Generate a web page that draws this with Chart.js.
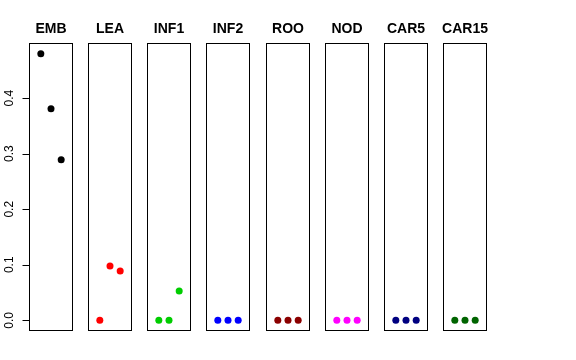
<!DOCTYPE html>
<html>
<head>
<meta charset="utf-8">
<script src="https://cdn.jsdelivr.net/npm/chart.js@4/dist/chart.umd.min.js"></script>
<style>
  body { margin: 0; background: #fff; }
  #wrap { position: relative; width: 576px; height: 360px; background: #fff; }
  #wrap canvas { position: absolute; top: 0; }
</style>
</head>
<body>
<div id="wrap"></div>
<script>
// panel names and values (x = 1, 2, 3 in each panel)
var tissues = ['EMB', 'LEA', 'INF1', 'INF2', 'ROO', 'NOD', 'CAR5', 'CAR15'];
var xPos = [1, 2, 3];
var embValues = [0.480, 0.381, 0.289];
var leaValues = [0.0, 0.098, 0.089];
var inf1Values = [0.0, 0.0, 0.053];
var inf2Values = [0, 0, 0];
var rooValues = [0, 0, 0];
var nodValues = [0, 0, 0];
var car5Values = [0, 0, 0];
var car15Values = [0, 0, 0];
var yTicks = [0.0, 0.1, 0.2, 0.3, 0.4];
var colors = ['#000000', '#ff0000', '#00cd00', '#0000ff', '#8b0000', '#ff00ff', '#000080', '#006400'];

var allValues = [embValues, leaValues, inf1Values, inf2Values, rooValues, nodValues, car5Values, car15Values];

var panelLeft = 29, panelPitch = 59.14, panelW = 44;
var panelTop = 43, panelBottom = 331, canvasH = 360;
var FONT = '"Liberation Sans", Arial, Helvetica, sans-serif';

var boxPlugin = {
  id: 'box',
  afterDraw: function(chart) {
    var ctx = chart.ctx, a = chart.chartArea;
    ctx.save();
    ctx.strokeStyle = '#000';
    ctx.lineWidth = 1;
    ctx.strokeRect(a.left + 0.5, a.top + 0.5, a.right - a.left - 1, a.bottom - a.top - 1);
    // title
    ctx.fillStyle = '#000';
    ctx.font = 'bold 14px ' + FONT;
    ctx.textAlign = 'center';
    ctx.textBaseline = 'middle';
    ctx.fillText(chart.options.plugins.box.title, (a.left + a.right) / 2, 29);
    // y axis on first panel only
    if (chart.options.plugins.box.axis) {
      var y = chart.scales.y;
      var x0 = a.left + 0.5;
      ctx.beginPath();
      ctx.moveTo(x0, Math.round(y.getPixelForValue(yTicks[0])) + 0.5);
      ctx.lineTo(x0, Math.round(y.getPixelForValue(yTicks[yTicks.length - 1])) + 0.5);
      yTicks.forEach(function(t) {
        var py = Math.round(y.getPixelForValue(t)) + 0.5;
        ctx.moveTo(x0, py);
        ctx.lineTo(x0 - 7, py);
      });
      ctx.stroke();
      ctx.font = '12px ' + FONT;
      yTicks.forEach(function(t) {
        var py = y.getPixelForValue(t);
        ctx.save();
        ctx.translate(10, py);
        ctx.rotate(-Math.PI / 2);
        ctx.fillText(t.toFixed(1), 0, 0);
        ctx.restore();
      });
    }
    ctx.restore();
  }
};

var wrap = document.getElementById('wrap');

tissues.forEach(function(name, i) {
  var left = Math.round(panelLeft + i * panelPitch);
  var pad = i == 0 ? left : 5;
  var canvasLeft = left - pad;
  var canvas = document.createElement('canvas');
  canvas.style.left = canvasLeft + 'px';
  canvas.style.width = (pad + panelW + 5) + 'px';
  canvas.style.height = canvasH + 'px';
  canvas.width = pad + panelW + 5;
  canvas.height = canvasH;
  wrap.appendChild(canvas);

  var pts = xPos.map(function(x, k) { return { x: x, y: allValues[i][k] }; });

  new Chart(canvas, {
    type: 'scatter',
    data: {
      datasets: [{
        data: pts,
        backgroundColor: colors[i],
        borderColor: colors[i],
        pointRadius: 3.5,
        pointBorderWidth: 0
      }]
    },
    options: {
      responsive: false,
      animation: false,
      layout: { padding: { left: pad, right: 5, top: panelTop, bottom: canvasH - panelBottom } },
      scales: {
        x: { display: false, min: -0.16, max: 4.16 },
        y: { display: false, min: -0.0192, max: 0.4992 }
      },
      plugins: {
        legend: { display: false },
        tooltip: { enabled: false },
        box: { title: name, axis: i == 0 }
      }
    },
    plugins: [boxPlugin]
  });
});
</script>
</body>
</html>
